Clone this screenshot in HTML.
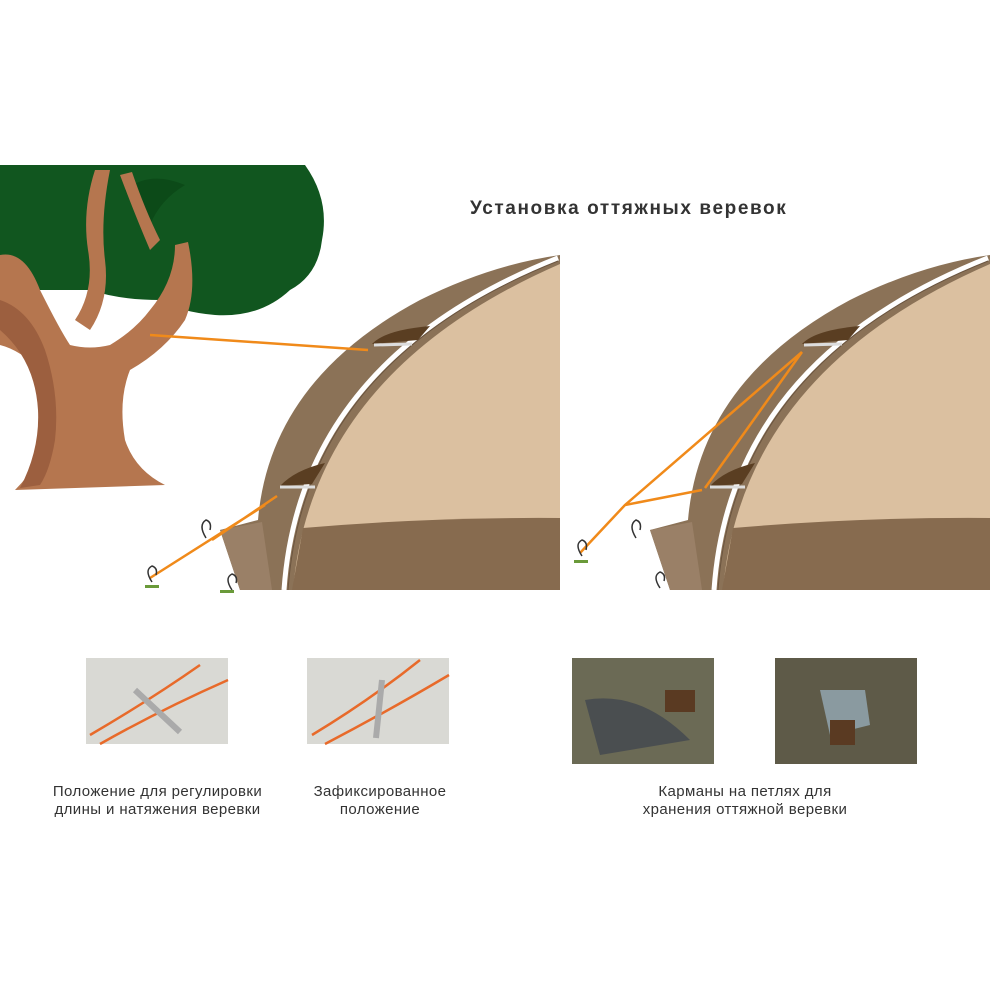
<!DOCTYPE html>
<html><head><meta charset="utf-8"><style>
body{margin:0;background:#fff;width:1000px;height:1000px;overflow:hidden;font-family:"Liberation Sans",sans-serif}
.t{position:absolute;font-size:15px;color:#333;text-align:center;line-height:18px;letter-spacing:0.4px}
</style></head><body>
<svg width="1000" height="1000" style="position:absolute;left:0;top:0">
<path d="M0,165 L305,165 Q330,200 322,240 Q318,275 290,290 Q260,318 215,315 Q180,312 160,300 Q120,300 90,290 L0,290 Z" fill="#11561f"/>
<path d="M125,190 Q150,170 185,185 Q160,200 150,225 Q135,210 125,190Z" fill="#0c4a18"/>
<path d="M0,255 Q25,250 40,290 Q60,330 70,345 Q90,350 110,345 Q135,330 150,310 Q175,280 175,245 L188,242 Q198,290 185,320 Q165,350 130,370 Q118,400 125,440 Q135,470 165,485 L15,490 Q45,460 50,420 Q52,390 40,370 Q20,350 0,345 Z" fill="#b5764f"/>
<path d="M95,170 L110,170 Q100,220 105,260 Q110,300 90,330 L75,320 Q95,290 88,250 Q82,210 95,170Z" fill="#b5764f"/>
<path d="M120,175 Q135,215 150,250 L160,240 Q145,210 132,172Z" fill="#b5764f"/>
<path d="M0,300 Q30,310 45,350 Q60,395 55,440 Q50,470 40,485 L20,488 Q40,450 38,410 Q35,360 0,330Z" fill="#9c5f3f"/>
<g id="tent">
<path d="M220,530 L258,520 Q270,380 420,300 Q490,265 560,255 L560,590 L240,590 Z" fill="#8b7257"/>
<path d="M220,530 L262,522 L272,590 L240,590 Z" fill="#9a8067"/>
<path d="M284,590 Q300,360 558,258" stroke="#fff" stroke-width="5" fill="none"/>
<path d="M288,590 Q304,362 558,261" stroke="#6b5540" stroke-width="1" fill="none"/>
<path d="M293,590 Q312,372 560,264 L560,590 Z" fill="#dbc0a0"/>
<path d="M303,528 Q430,517 560,518 L560,590 L292,590 Z" fill="#876b4f"/>
<path d="M372,344 Q385,330 430,326 L418,340 Z" fill="#5a3e22"/>
<line x1="374" y1="345" x2="412" y2="344" stroke="#ddd" stroke-width="3"/>
<path d="M280,486 Q295,470 325,463 L312,484 Z" fill="#5a3e22"/>
<line x1="280" y1="487" x2="315" y2="487" stroke="#ddd" stroke-width="3"/>
</g>
<use href="#tent" transform="translate(430,0)"/>
<g stroke="#f08a1a" stroke-width="2.5" fill="none">
<path d="M150,335 L368,350"/>
<path d="M277,496 L212,540 M265,505 L150,578"/>
<path d="M802,352 L625,505 L580,553 M802,352 L705,488 M702,490 L625,505"/>
</g>
<g stroke="#333" stroke-width="1.5" fill="none">
<path d="M206,538 Q198,525 206,520 Q212,522 210,530"/>
<path d="M152,582 Q144,570 152,566 Q158,568 156,575"/>
<path d="M232,590 Q224,578 232,574 Q238,576 236,583"/>
<path d="M582,556 Q574,544 582,540 Q588,542 586,550"/>
<path d="M636,538 Q628,525 636,520 Q642,522 640,530"/>
<path d="M660,588 Q652,576 660,572 Q666,574 664,581"/>
</g>
<g fill="#6a9a3a"><rect x="145" y="585" width="14" height="3"/><rect x="220" y="590" width="14" height="3"/><rect x="574" y="560" width="14" height="3"/></g>
<rect x="86" y="658" width="142" height="86" fill="#d9d9d4"/>
<path d="M90,735 Q150,700 200,665 M100,744 Q160,710 228,680" stroke="#e86a2a" stroke-width="2.5" fill="none"/>
<line x1="135" y1="690" x2="180" y2="732" stroke="#aaa" stroke-width="6"/>
<rect x="307" y="658" width="142" height="86" fill="#d9d9d4"/>
<path d="M312,735 Q370,700 420,660 M325,744 Q390,710 449,675" stroke="#e86a2a" stroke-width="2.5" fill="none"/>
<line x1="382" y1="680" x2="376" y2="738" stroke="#aaa" stroke-width="6"/>
<rect x="572" y="658" width="142" height="106" fill="#6b6a55"/>
<path d="M585,700 Q640,690 690,740 L600,755 Z" fill="#4a4e50"/>
<rect x="665" y="690" width="30" height="22" fill="#5a3a22"/>
<rect x="775" y="658" width="142" height="106" fill="#5e5a48"/>
<path d="M820,690 L865,690 L870,725 L830,735 Z" fill="#8a9aa0"/>
<rect x="830" y="720" width="25" height="25" fill="#5a3a22"/>
</svg>
<div style="position:absolute;left:470px;top:198px;font-size:19px;font-weight:bold;color:#333;letter-spacing:1.6px">Установка оттяжных веревок</div>
<div class="t" style="left:20px;top:783px;width:275px">Положение для регулировки<br>длины и натяжения веревки</div>
<div class="t" style="left:280px;top:783px;width:200px">Зафиксированное<br>положение</div>
<div class="t" style="left:605px;top:783px;width:280px">Карманы на петлях для<br>хранения оттяжной веревки</div>
</body></html>
